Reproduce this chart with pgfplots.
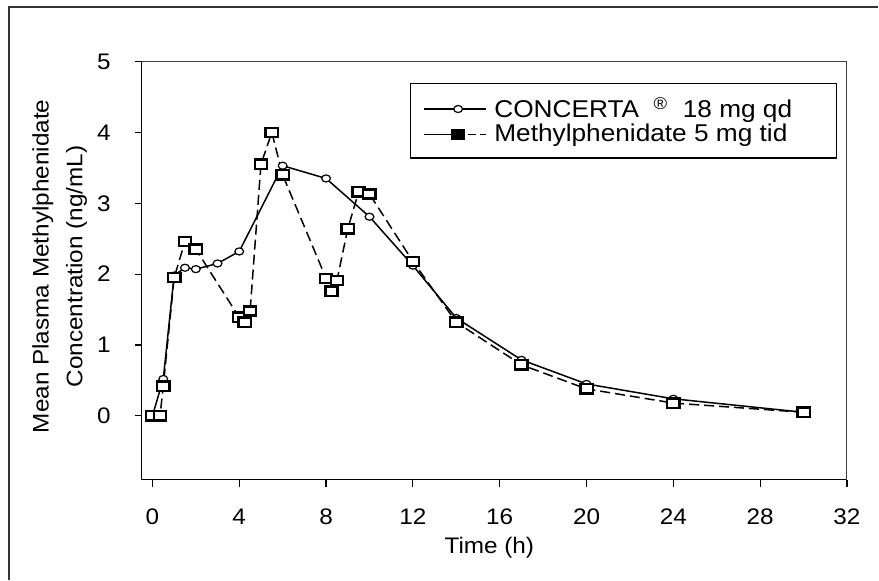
\documentclass[border=0pt]{standalone}
\usepackage{fontspec}
\setmainfont{Liberation Sans}[FakeStretch=1.08]
\usepackage{pgfplots}
\pgfplotsset{compat=1.18}

% concentration (ng/mL) vs time (h)
\pgfplotstableread{
t c
0 0
0.5 0.52
1 1.98
1.5 2.09
2 2.07
3 2.15
4 2.32
6 3.53
8 3.35
10 2.81
12 2.12
14 1.38
17 0.79
20 0.45
24 0.24
30 0.05
}\concerta

\pgfplotstableread{
t c
0 0
0.35 0
0.5 0.42
1 1.95
1.5 2.46
2 2.35
4 1.39
4.25 1.32
4.5 1.48
5 3.55
5.5 4.00
6 3.40
8 1.94
8.25 1.76
8.5 1.91
9 2.64
9.5 3.16
10 3.13
12 2.18
14 1.32
17 0.72
20 0.38
24 0.18
30 0.05
}\mph

\begin{document}
\begin{tikzpicture}
\begin{axis}[
    at={(0,0)}, anchor=south west,
    scale only axis,
    width=353bp, height=209.2bp,
    xmin=-0.5, xmax=32,
    ymin=-0.9, ymax=5,
    xtick={0,4,...,32},
    ytick={0,1,2,3,4,5},
    axis x line*=bottom,
    axis y line*=left,
    axis line style={line width=0.9bp, black},
    tick align=outside,
    major tick length=3.5bp,
    tick style={line width=0.6bp, black},
    /pgf/number format/assume math mode=true,
    tick label style={font=\fontsize{11.3}{13}\selectfont, inner sep=0pt},
    xticklabel style={anchor=center, yshift=-15bp},
    yticklabel style={anchor=east, xshift=-11.8bp},
    xlabel={Time (h)},
    xlabel style={font=\fontsize{11.3}{13}\selectfont, at={(axis description cs:0.493,-0.163)}, anchor=center},
    ylabel={Mean Plasma Methylphenidate\\Concentration (ng/mL)},
    ylabel style={font=\fontsize{11.3}{17}\selectfont, align=center, at={(axis description cs:-0.116,0.51)}, anchor=center},
    legend style={at={(rel axis cs:0.38,0.949)}, anchor=north west,
        draw=black, line width=0.8bp, fill=white,
        font=\fontsize{12.2}{14}\selectfont,
        inner xsep=6.5bp, inner ysep=6bp,
        nodes={inner ysep=0.8bp, inner xsep=3.75bp},
        cells={anchor=west}},
    legend image code/.code={\draw[mark repeat=2, mark phase=2] plot coordinates {(0bp,0bp) (17bp,0bp) (31bp,0bp)};},
]
\draw[line width=0.6bp, black!75] (rel axis cs:0,1) -- (rel axis cs:1,1) -- (rel axis cs:1,0);

\addplot[black, line width=0.75bp, mark=*, mark size=2.2bp,
    mark options={solid, fill=white, draw=black, line width=0.6bp, yscale=0.8}]
    table[x=t, y=c] {\concerta};

\addplot[black, line width=0.75bp, dash pattern=on 5bp off 2.5bp, mark=square*, mark size=3.1bp,
    mark options={solid, fill=white, draw=black, line width=1.2bp, yscale=0.75}, forget plot]
    table[x=t, y=c] {\mph};

\addlegendimage{black, line width=0.75bp, dash pattern=on 20bp off 2bp on 4bp off 2bp, mark=square*, mark size=3bp,
    mark options={solid, fill=black, draw=black, yscale=0.75}}

\legend{CONCERTA\ \ \textsuperscript{®}\ \ 18 mg qd\hspace*{12bp}, Methylphenidate 5 mg tid}
\end{axis}
\path (-70.85bp,-50bp) rectangle (368.65bp,240bp);
\draw[line width=0.75bp, black!80] (-66.35bp,-50bp) -- (-66.35bp,236.5bp) -- (368.65bp,236.5bp);
\end{tikzpicture}
\end{document}
